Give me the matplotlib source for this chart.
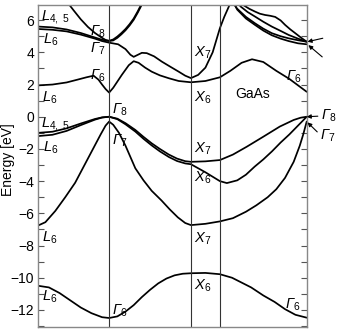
import numpy as np
import matplotlib
matplotlib.use("Agg")
import matplotlib.pyplot as plt

plt.rcParams['font.family'] = ['Liberation Sans', 'DejaVu Sans']
plt.rcParams['mathtext.fontset'] = 'custom'
plt.rcParams['mathtext.rm'] = 'Liberation Sans:italic'
plt.rcParams['mathtext.it'] = 'Liberation Sans:italic'
plt.rcParams['mathtext.sf'] = 'Liberation Sans'

# high-symmetry points along path L - Gamma - X - U,K - Gamma
sym_names = ['L', 'G', 'X', 'K', 'G']
sym_k = [0.0, 0.866, 1.866, 2.220, 3.281]

# band data: u = segment index + fraction along segment, E in eV
s_u = [0, .15, .3, .45, .6, .75, .9, 1.0, 1.1, 1.2, 1.3, 1.4, 1.5, 1.6, 1.7, 1.8, 1.9, 2.0, 2.5, 3.0, 3.14, 3.25, 3.36, 3.5, 3.63, 3.75, 3.87, 4.0]
s_E = [-10.5, -10.6, -10.95, -11.4, -11.85, -12.2, -12.45, -12.5, -12.4, -12.1, -11.7, -11.2, -10.75, -10.35, -10.05, -9.85, -9.75, -9.72, -9.7, -9.78, -10.0, -10.3, -10.6, -11.1, -11.5, -11.95, -12.3, -12.48]

so_u = [0, .1, .24, .38, .52, .64, .76, .88, .95, 1.0, 1.05, 1.12, 1.2, 1.32, 1.42, 1.52, 1.64, 1.74, 1.84, 1.93, 2.0, 2.5, 3.0, 3.15, 3.3, 3.42, 3.55, 3.65, 3.75, 3.85, 3.92, 3.96, 4.0]
so_E = [-6.75, -6.55, -5.85, -5.0, -4.1, -3.1, -2.1, -1.1, -0.55, -0.3, -0.5, -1.0, -1.8, -3.2, -3.95, -4.6, -5.2, -5.75, -6.25, -6.6, -6.73, -6.65, -6.5, -6.3, -5.9, -5.5, -5.0, -4.5, -3.8, -2.8, -1.8, -1.1, -0.3]

hh_u = [0, .2, .4, .6, .8, .9, 1.0, 1.1, 1.2, 1.32, 1.42, 1.52, 1.62, 1.73, 1.83, 1.93, 2.0, 2.5, 3.0, 3.15, 3.31, 3.5, 3.69, 3.85, 3.93, 4.0]
hh_E = [-1.0, -0.93, -0.72, -0.42, -0.14, -0.04, 0.0, -0.12, -0.4, -0.82, -1.25, -1.65, -2.0, -2.35, -2.6, -2.76, -2.8, -2.77, -2.69, -2.35, -1.86, -1.24, -0.61, -0.2, -0.06, 0.0]

lh_u = [0, .2, .4, .6, .8, .9, 1.0, 1.1, 1.2, 1.32, 1.42, 1.52, 1.62, 1.73, 1.83, 1.93, 2.0, 2.5, 3.0, 3.08, 3.2, 3.3, 3.4, 3.5, 3.6, 3.7, 3.8, 3.9, 4.0]
lh_E = [-1.2, -1.12, -0.88, -0.52, -0.18, -0.05, 0.0, -0.15, -0.47, -0.92, -1.37, -1.78, -2.15, -2.5, -2.75, -2.9, -2.95, -3.45, -4.0, -4.12, -3.95, -3.6, -3.1, -2.65, -2.15, -1.6, -1.1, -0.55, 0.0]

c1_u = [0, .2, .4, .55, .68, .78, .85, .9, .95, 1.0, 1.05, 1.155, 1.24, 1.30, 1.36, 1.44, 1.52, 1.62, 1.73, 1.85, 2.0, 2.5, 3.0, 3.12, 3.25, 3.37, 3.5, 3.65, 3.8, 3.9, 4.0]
c1_E = [1.95, 2.0, 2.13, 2.3, 2.45, 2.55, 2.3, 2.0, 1.72, 1.5, 1.8, 2.6, 3.2, 3.45, 3.35, 3.05, 2.8, 2.57, 2.39, 2.22, 2.14, 2.22, 2.45, 2.85, 3.35, 3.57, 3.4, 2.85, 2.35, 1.95, 1.55]

c2_u = [0, .2, .4, .6, .8, .9, 1.0, 1.11, 1.2, 1.26, 1.30, 1.34, 1.40, 1.46, 1.55, 1.645, 1.75, 1.85, 1.93, 2.0, 2.25, 2.5, 2.75, 3.0, 3.05, 3.11, 3.15]
c2_E = [5.45, 5.4, 5.3, 5.1, 4.85, 4.7, 4.6, 4.5, 4.2, 3.85, 3.72, 3.82, 3.97, 3.95, 3.75, 3.42, 3.1, 2.8, 2.55, 2.4, 2.6, 3.05, 4.0, 5.5, 6.2, 6.93, 7.4]

c3_u = [0, .2, .4, .6, .8, .9, 1.0, 1.05, 1.1, 1.15, 1.2, 1.25, 1.3, 1.35, 1.4, 1.43]
c3_E = [5.6, 5.55, 5.42, 5.2, 4.92, 4.78, 4.7, 4.74, 4.9, 5.12, 5.37, 5.67, 6.02, 6.47, 6.97, 7.3]

c4_u = [.40, .44, .5, .6, .7, .8, .9, .95, 1.0, 1.05, 1.1, 1.15, 1.2, 1.25, 1.3, 1.35, 1.4, 1.42]
c4_E = [7.2, 6.94, 6.6, 6.05, 5.58, 5.2, 4.9, 4.77, 4.72, 4.8, 4.98, 5.2, 5.45, 5.75, 6.1, 6.55, 7.05, 7.25]

cC_u = [3.25, 3.271, 3.34, 3.405, 3.46, 3.521, 3.58, 3.637, 3.7, 3.752, 3.81, 3.868, 3.93, 4.0]
cC_E = [7.05, 6.93, 6.7, 6.53, 6.4, 6.32, 6.27, 6.2, 5.98, 5.7, 5.43, 5.19, 4.93, 4.66]

cD_u = [3.15, 3.193, 3.3, 3.405, 3.5, 3.598, 3.7, 3.792, 3.9, 4.0]
cD_E = [7.1, 6.74, 6.2, 5.8, 5.47, 5.19, 5.0, 4.87, 4.75, 4.66]

cF_u = [3.16, 3.2, 3.3, 3.405, 3.5, 3.598, 3.7, 3.792, 3.9, 4.0]
cF_E = [7.1, 6.65, 6.1, 5.7, 5.35, 5.06, 4.85, 4.7, 4.56, 4.5]

cE_u = [3.2, 3.24, 3.32, 3.405, 3.5, 3.598, 3.7, 3.792, 3.9, 4.0]
cE_E = [7.1, 6.84, 6.5, 6.22, 5.9, 5.6, 5.33, 5.08, 4.85, 4.66]

bands = [(s_u, s_E), (so_u, so_E), (hh_u, hh_E), (lh_u, lh_E), (c1_u, c1_E),
         (c2_u, c2_E), (c3_u, c3_E), (c4_u, c4_E), (cC_u, cC_E), (cD_u, cD_E),
         (cF_u, cF_E), (cE_u, cE_E)]

seg_idx = [0, 1, 2, 3, 4]

fig = plt.figure(figsize=(3.37, 3.29), dpi=100)
ax = fig.add_axes([38.3/337, 1-326.7/329, (306.7-38.3)/337, (326.7-5)/329])

for u, E in bands:
    k = np.interp(u, seg_idx, sym_k)
    ax.plot(k, E, color='black', lw=1.25, solid_capstyle='round', solid_joinstyle='round')

for kk in sym_k[1:4]:
    ax.axvline(kk, color='#333333', lw=0.8)

ax.set_xlim(sym_k[0], sym_k[-1])
ax.set_ylim(-13.04, 6.94)
ax.set_xticks([])
ax.set_yticks(np.arange(-12, 7, 2))
ax.set_yticks(np.arange(-13, 7, 1), minor=True)
ax.tick_params(axis='y', which='both', direction='in', left=True, right=True,
               length=4.5, width=0.8, color='#555555', labelsize=10, pad=3)
for sp in ax.spines.values():
    sp.set_color('#888888')
    sp.set_linewidth(1.0)

ax.set_ylabel('Energy [eV]', fontsize=10, labelpad=2)
ax.yaxis.set_label_coords(-0.088, 0.52)

fs = 10.5
def lab(x, y, s, ha='left'):
    ax.text(x, y, s, fontsize=fs, ha=ha, va='center')

G = r'\mathrm{\Gamma}'
kL, kG, kX, kK, kG2 = sym_k
dx = 0.04
lab(kL + 0.03, 6.2, r'$L_{\mathsf{4,\ 5}}$')
lab(kL + 0.06, 4.8, r'$L_{\mathsf{6}}$')
lab(kL + 0.04, 1.2, r'$L_{\mathsf{6}}$')
lab(kL + 0.03, -0.45, r'$L_{\mathsf{4,\ 5}}$')
lab(kL + 0.06, -1.9, r'$L_{\mathsf{6}}$')
lab(kL + 0.04, -7.5, r'$L_{\mathsf{6}}$')
lab(kL + 0.04, -11.2, r'$L_{\mathsf{6}}$')

lab(kG - dx, 5.3, r'$%s_{\mathsf{8}}$' % G, ha='right')
lab(kG - dx, 4.25, r'$%s_{\mathsf{7}}$' % G, ha='right')
lab(kG - dx, 2.55, r'$%s_{\mathsf{6}}$' % G, ha='right')
lab(kG + dx, 0.45, r'$%s_{\mathsf{8}}$' % G)
lab(kG + dx, -1.5, r'$%s_{\mathsf{7}}$' % G)
lab(kG + dx, -12.05, r'$%s_{\mathsf{6}}$' % G)

lab(kX + dx, 3.95, r'$X_{\mathsf{7}}$')
lab(kX + dx, 1.2, r'$X_{\mathsf{6}}$')
lab(kX + dx, -2.0, r'$X_{\mathsf{7}}$')
lab(kX + dx, -3.8, r'$X_{\mathsf{6}}$')
lab(kX + dx, -7.6, r'$X_{\mathsf{7}}$')
lab(kX + dx, -10.5, r'$X_{\mathsf{6}}$')

lab(kG2 - 0.06, 2.5, r'$%s_{\mathsf{6}}$' % G, ha='right')
lab(kG2 - 0.07, -11.65, r'$%s_{\mathsf{6}}$' % G, ha='right')
ax.text(2.62, 1.4, 'GaAs', fontsize=10, ha='center', va='center')

arrow = dict(arrowstyle='-|>', color='black', lw=0.8, mutation_scale=6, shrinkA=0, shrinkB=0)
ax.annotate(r'$%s_{\mathsf{8}}$' % G, xy=(kG2, 0.0), xytext=(10, 0.5), textcoords='offset points',
            fontsize=fs, va='center', ha='left', annotation_clip=False,
            arrowprops=dict(arrow, relpos=(0, 0.5)))
ax.annotate(r'$%s_{\mathsf{7}}$' % G, xy=(kG2 + 0.01, -0.35), xytext=(9, -10), textcoords='offset points',
            fontsize=fs, va='center', ha='left', annotation_clip=False,
            arrowprops=dict(arrow, relpos=(0, 0.6)))
ax.annotate('', xy=(kG2 + 0.01, 4.66), xytext=(11, 2.5), textcoords='offset points',
            annotation_clip=False, arrowprops=arrow)
ax.annotate('', xy=(kG2 + 0.02, 4.45), xytext=(10, -8.5), textcoords='offset points',
            annotation_clip=False, arrowprops=arrow)

fig.savefig('out.png', dpi=100)
